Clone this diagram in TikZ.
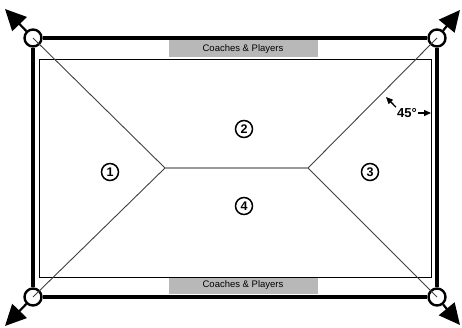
\documentclass[tikz,border=0pt]{standalone}
\usepackage{fontspec}
\setmainfont{Liberation Sans}
\usetikzlibrary{arrows.meta}
\begin{document}
\begin{tikzpicture}[x=1pt,y=-1pt,
  corner/.style={circle,draw,line width=2.4pt,minimum size=17pt,inner sep=0pt},
  thickline/.style={line width=3.4pt},
  diag/.style={line width=0.9pt,black!75},
  outarrow/.style={line width=2.2pt,-{Triangle[length=21pt,width=20pt]}},
  num/.style={circle,draw,line width=1.5pt,minimum size=17pt,inner sep=0pt,font=\bfseries\fontsize{12.5}{12.5}\selectfont},
  bench/.style={fill=black!28,minimum width=149pt,minimum height=17pt,inner sep=0pt,font=\fontsize{9.5}{9.5}\selectfont}]
\useasboundingbox (0,0) rectangle (462,328);
% benches
\node[bench] (b1) at (243,49) {Coaches \& Players};
\node[bench] (b2) at (243,285.5) {Coaches \& Players};
% inner field
\draw[line width=1pt] (39,60) rectangle (431,277);
% corner nodes
\node[corner] (tl) at (33,38) {};
\node[corner] (tr) at (437,38) {};
\node[corner] (bl) at (33,297) {};
\node[corner] (br) at (437,297) {};
% outer thick border
\draw[thickline] (tl) -- (tr);
\draw[thickline] (tr) -- (br);
\draw[thickline] (br) -- (bl);
\draw[thickline] (bl) -- (tl);
% centre coordinates
\coordinate (cl) at (165,168);
\coordinate (cr) at (308,168);
\draw[diag] (tl.center) -- (cl);
\draw[diag] (bl.center) -- (cl);
\draw[diag] (tr.center) -- (cr);
\draw[diag] (br.center) -- (cr);
\draw[line width=1.1pt,black!40] (cl) -- (cr);
% outward arrows
\coordinate (atl) at (5,9);
\coordinate (atr) at (460,10);
\coordinate (abl) at (5,326);
\coordinate (abr) at (460,325);
\draw[outarrow] (tl) -- (atl);
\draw[outarrow] (tr) -- (atr);
\draw[outarrow] (bl) -- (abl);
\draw[outarrow] (br) -- (abr);
% zone numbers
\node[num] (n1) at (110,172) {1};
\node[num] (n2) at (244,129) {2};
\node[num] (n3) at (370,172) {3};
\node[num] (n4) at (244,206) {4};
% angle label
\node[font=\bfseries\fontsize{13}{13}\selectfont,inner sep=1pt] (ang) at (407,113) {45°};
\coordinate (ad) at (386,97);
\coordinate (ae) at (431,113);
\draw[line width=1.3pt,-{Triangle[length=7pt,width=6pt]}] (ang.north west) -- (ad);
\draw[line width=1.3pt,-{Triangle[length=7pt,width=6pt]}] (ang.east) -- (ae);
\end{tikzpicture}
\end{document}
